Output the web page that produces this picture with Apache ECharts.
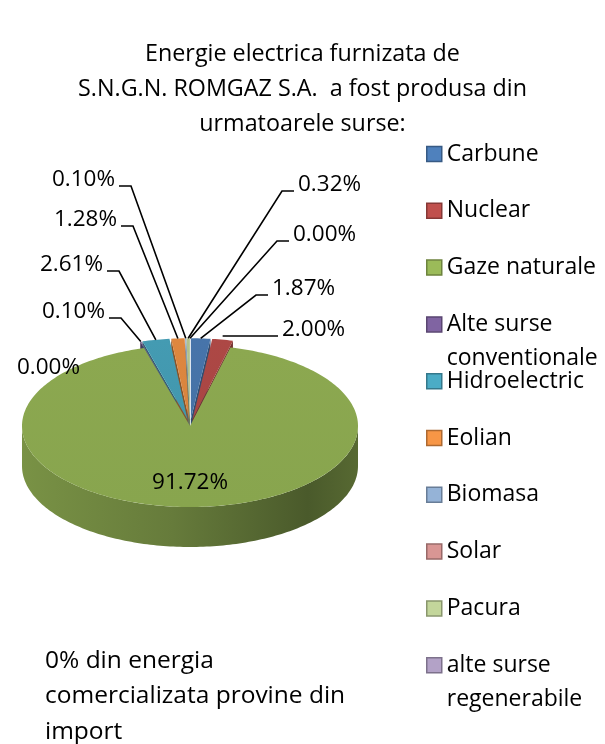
<!DOCTYPE html>
<html>
<head>
<meta charset="utf-8">
<script src="https://cdn.jsdelivr.net/npm/echarts@6/dist/echarts.min.js"></script>
<style>
html, body { margin: 0; padding: 0; background: #fff; }
#main { width: 605px; height: 744px; }
</style>
</head>
<body>
<div id="main"></div>
<script>
// sources, in legend order (clockwise from 12 o'clock)
var names = ['Carbune', 'Nuclear', 'Gaze naturale', 'Alte surse\nconventionale', 'Hidroelectric',
    'Eolian', 'Biomasa', 'Solar', 'Pacura', 'alte surse\nregenerabile'];
var values = [1.87, 2.00, 91.72, 0.10, 2.61, 1.28, 0.10, 0.00, 0.32, 0.00];
var colors = ['#4F81BD', '#C0504D', '#9BBB59', '#8064A2', '#4BACC6',
    '#F79646', '#95B3D7', '#D99694', '#C3D69B', '#B3A2C7'];

// where Excel put each data label (x = text edge, side = which edge)
var labelX = [272, 282, 190, 105, 103, 117, 115, 80, 298, 293];
var labelY = [289, 330, 483, 312, 265, 220, 180, 368, 185, 235];
var labelSide = ['L', 'L', 'C', 'R', 'R', 'R', 'R', 'N', 'L', 'L'];

var FONT = '"Open Sans", sans-serif';
var cx = 190, cy = 426, rx = 168, ry = 81, depth = 40, explode = 14;

var total = 0;
var starts = [];
for (var i = 0; i < values.length; i++) {
    starts.push(total);
    total += values[i];
}

function shade(hex, f) {
    var n = parseInt(hex.slice(1), 16);
    var r = Math.round(((n >> 16) & 255) * f), g = Math.round(((n >> 8) & 255) * f), b = Math.round((n & 255) * f);
    return 'rgb(' + Math.min(r, 255) + ',' + Math.min(g, 255) + ',' + Math.min(b, 255) + ')';
}

function pt(t, ox, oy, dy) {
    return [cx + ox + rx * Math.sin(t), cy + oy + (dy || 0) - ry * Math.cos(t)];
}

function arc(t0, t1, ox, oy, dy) {
    var pts = [];
    var n = Math.max(2, Math.ceil((t1 - t0) / 0.02));
    for (var j = 0; j <= n; j++) {
        pts.push(pt(t0 + (t1 - t0) * j / n, ox, oy, dy));
    }
    return pts;
}

function renderSlice(params, api) {
    var k = params.seriesIndex;
    var v = api.value(0);
    var t0 = starts[k] / total * Math.PI * 2;
    var t1 = (starts[k] + v) / total * Math.PI * 2;
    var tm = (t0 + t1) / 2;
    var big = v > 50;
    var ox = big ? 0 : explode * Math.sin(tm);
    var oy = big ? 0 : -explode * Math.cos(tm) * ry / rx;
    var apex = [cx + ox, cy + oy];
    var col = colors[k];
    var children = [];

    if (v > 0) {
        // walls facing the viewer
        if (Math.sin(t0) < 0) {
            var a0 = pt(t0, ox, oy);
            children.push({type: 'polygon', z2: 1, shape: {points: [apex, a0, [a0[0], a0[1] + depth], [apex[0], apex[1] + depth]]},
                style: {fill: shade(col, 0.55)}});
        }
        if (Math.sin(t1) > 0) {
            var a1 = pt(t1, ox, oy);
            children.push({type: 'polygon', z2: 1, shape: {points: [apex, a1, [a1[0], a1[1] + depth], [apex[0], apex[1] + depth]]},
                style: {fill: shade(col, 0.6)}});
        }
        // outer side, front half only
        var s0 = Math.max(t0, Math.PI / 2), s1 = Math.min(t1, Math.PI * 1.5);
        if (s1 > s0) {
            var top = arc(s0, s1, ox, oy, 0);
            var bot = arc(s0, s1, ox, oy, depth).reverse();
            children.push({type: 'polygon', z2: 3, shape: {points: top.concat(bot)},
                style: {fill: {type: 'linear', x: 0, y: 0, x2: 1, y2: 0, colorStops: [
                    {offset: 0, color: shade(col, 0.78)},
                    {offset: 0.45, color: shade(col, 0.66)},
                    {offset: 0.85, color: shade(col, 0.48)},
                    {offset: 1, color: shade(col, 0.56)}
                ]}}});
        }
        // top face
        children.push({type: 'polygon', z2: big ? 4 : 2, shape: {points: [apex].concat(arc(t0, t1, ox, oy, 0))},
            style: {fill: {type: 'linear', x: 0, y: 0, x2: 0, y2: 1, colorStops: [
                {offset: 0, color: shade(col, 0.9)},
                {offset: 1, color: shade(col, 0.88)}
            ]}}});
    }

    // data label and leader line
    var txt = v.toFixed(2) + '%';
    var side = labelSide[k];
    var lx = labelX[k], ly = labelY[k];
    children.push({type: 'text', z2: 10, x: lx, y: ly,
        style: {text: txt, font: '22.5px ' + FONT, fill: '#000',
            align: side === 'L' ? 'left' : (side === 'C' ? 'center' : 'right'), verticalAlign: 'middle'}});
    if (side === 'L' || side === 'R') {
        var anchor = pt(tm, ox, oy);
        var dir = side === 'L' ? -1 : 1;
        var yl = ly + 6;
        var e1 = [lx + dir * 4, yl];
        var e2 = [lx + dir * 16, yl];
        var pts = Math.abs(anchor[1] - yl) < 6 ? [e1, [anchor[0], yl]] : [e1, e2, anchor];
        children.push({type: 'polyline', z2: 9, shape: {points: pts},
            style: {stroke: '#000', lineWidth: 1.6, fill: null}});
    }
    return {type: 'group', children: children};
}

// blank first line keeps the icon beside the first line of two-line names
function legendText(name) {
    return name.indexOf('\n') >= 0 ? ' \n' + name : name;
}

var series = [];
var legends = [];
var legendTop0 = 154, legendStep = 56.8;
for (var i = 0; i < names.length; i++) {
    series.push({
        name: names[i],
        type: 'custom',
        coordinateSystem: 'none',
        itemStyle: {color: colors[i]},
        renderItem: renderSlice,
        data: [[values[i]]],
        silent: true
    });
    var half = names[i].indexOf('\n') >= 0 ? 51 : 17;
    legends.push({
        orient: 'vertical',
        left: 426,
        top: legendTop0 + i * legendStep - half,
        padding: 0,
        icon: 'rect',
        itemWidth: 15,
        itemHeight: 15,
        itemGap: 0,
        selectedMode: false,
        formatter: legendText,
        textStyle: {fontFamily: FONT, fontSize: 23, color: '#000', lineHeight: 34},
        data: [{name: names[i], itemStyle: {borderColor: shade(colors[i], 0.7), borderWidth: 1.5}}]
    });
}

var chart = echarts.init(document.getElementById('main'));
chart.setOption({
    backgroundColor: '#fff',
    animation: false,
    title: {
        text: 'Energie electrica furnizata de\nS.N.G.N. ROMGAZ S.A.  a fost produsa din\nurmatoarele surse:',
        left: 'center',
        top: 32,
        textStyle: {fontFamily: FONT, fontSize: 23.3, fontWeight: 'normal', color: '#000', lineHeight: 35}
    },
    legend: legends,
    graphic: [{
        type: 'text',
        left: 45,
        top: 643,
        style: {text: '0% din energia\ncomercializata provine din\nimport', font: '24.5px ' + FONT, fill: '#000', lineHeight: 35.5}
    }],
    series: series
});
</script>
</body>
</html>
